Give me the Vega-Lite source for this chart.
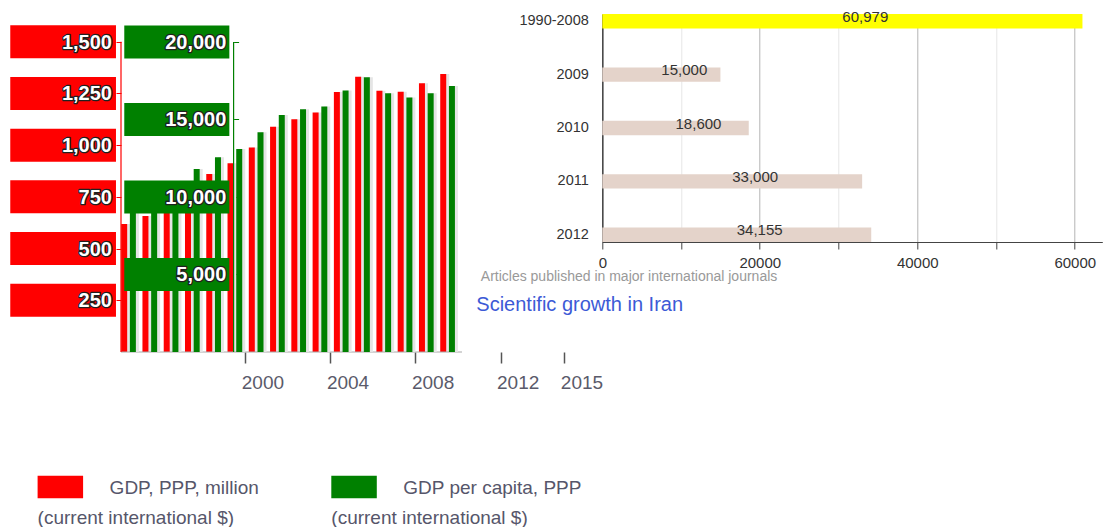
{
  "$schema": "https://vega.github.io/schema/vega-lite/v6.json",
  "autosize": {"type": "pad"},
  "padding": {"left": 10, "top": 9, "right": 0, "bottom": 0},
  "bounds": "flush",
  "columns": 2,
  "spacing": {"row": 123, "column": 16.3},
  "resolve": {"scale": {"color": "independent"}},
  "config": {"font": "Liberation Sans", "view": {"stroke": null}},
  "datasets": {
    "gdp": [
      {"year": 1994, "gdp_ppp_million": 619, "gdp_per_capita": 9600},
      {"year": 1995, "gdp_ppp_million": 657, "gdp_per_capita": 10100},
      {"year": 1996, "gdp_ppp_million": 705, "gdp_per_capita": 10700},
      {"year": 1997, "gdp_ppp_million": 775, "gdp_per_capita": 11800},
      {"year": 1998, "gdp_ppp_million": 860, "gdp_per_capita": 12560},
      {"year": 1999, "gdp_ppp_million": 912, "gdp_per_capita": 13100},
      {"year": 2000, "gdp_ppp_million": 989, "gdp_per_capita": 14170},
      {"year": 2001, "gdp_ppp_million": 1089, "gdp_per_capita": 15290},
      {"year": 2002, "gdp_ppp_million": 1125, "gdp_per_capita": 15660},
      {"year": 2003, "gdp_ppp_million": 1158, "gdp_per_capita": 15830},
      {"year": 2004, "gdp_ppp_million": 1257, "gdp_per_capita": 16860},
      {"year": 2005, "gdp_ppp_million": 1331, "gdp_per_capita": 17720},
      {"year": 2006, "gdp_ppp_million": 1263, "gdp_per_capita": 16690},
      {"year": 2007, "gdp_ppp_million": 1258, "gdp_per_capita": 16410},
      {"year": 2008, "gdp_ppp_million": 1299, "gdp_per_capita": 16690},
      {"year": 2009, "gdp_ppp_million": 1344, "gdp_per_capita": 17160}
    ],
    "gdpTicks": [{"v": 250}, {"v": 500}, {"v": 750}, {"v": 1000}, {"v": 1250}, {"v": 1500}],
    "pcTicks": [{"v": 5000}, {"v": 10000}, {"v": 15000}, {"v": 20000}],
    "articles": [
      {"period": "1990-2008", "articles": 60979},
      {"period": "2009", "articles": 15000},
      {"period": "2010", "articles": 18600},
      {"period": "2011", "articles": 33000},
      {"period": "2012", "articles": 34155}
    ],
    "legend": [
      {"series": "gdp", "label": "GDP, PPP, million", "unit": "(current international $)"},
      {"series": "pc", "label": "GDP per capita, PPP", "unit": "(current international $)"}
    ]
  },
  "concat": [
    {
      "width": 465,
      "height": 338,
      "layer": [
        {
          "layer": [
            {
              "data": {"name": "gdp"},
              "mark": {"type": "bar", "orient": "vertical", "width": 6, "xOffset": 9.5, "color": "#e5e5e5"},
              "encoding": {
                "x": {
                  "field": "year", "type": "quantitative",
                  "scale": {"domain": [1994.156, 2016.018], "nice": false, "zero": false, "padding": 0},
                  "axis": {
                    "values": [2000, 2004, 2008, 2012, 2015], "format": "d", "title": null,
                    "domain": false, "grid": false, "tickSize": 11, "tickColor": "#555", "tickWidth": 1.5,
                    "labelAlign": "left", "labelOffset": -4, "labelFontSize": 19, "labelColor": "#5a5a6a",
                    "labelPadding": 10, "labelFlush": false, "labelOverlap": false
                  }
                },
                "y": {
                  "field": "gdp_ppp_million", "type": "quantitative", "stack": null,
                  "scale": {"domain": [0, 1634], "nice": false, "padding": 0},
                  "axis": {
                    "orient": "left", "values": [250, 500, 750, 1000, 1250, 1500], "labels": false,
                    "domain": false, "grid": false, "tickSize": 5, "tickColor": "#ff0000", "title": null
                  }
                }
              }
            },
            {
              "data": {"name": "gdp"},
              "mark": {"type": "bar", "orient": "vertical", "width": 6, "xOffset": 6.5, "color": "#ff0000"},
              "encoding": {
                "x": {"field": "year", "type": "quantitative"},
                "y": {"field": "gdp_ppp_million", "type": "quantitative", "stack": null}
              }
            },
            {
              "data": {"values": [{}]},
              "mark": {"type": "rule", "color": "#a8a8a8", "strokeWidth": 1},
              "encoding": {
                "x": {"datum": 1994.156, "type": "quantitative"},
                "x2": {"datum": 2010.188},
                "y": {"datum": 0, "type": "quantitative"}
              }
            },
            {
              "data": {"values": [{}]},
              "mark": {"type": "rule", "color": "#ff0000", "strokeWidth": 1.2},
              "encoding": {
                "x": {"datum": 1994.156, "type": "quantitative"},
                "y": {"datum": 0, "type": "quantitative"},
                "y2": {"datum": 1500}
              }
            },
            {
              "data": {"name": "gdpTicks"},
              "mark": {"type": "bar", "orient": "horizontal", "height": 33, "color": "#ff0000"},
              "encoding": {
                "x": {"datum": 1988.95, "type": "quantitative"},
                "x2": {"datum": 1993.92},
                "y": {"field": "v", "type": "quantitative"}
              }
            },
            {
              "data": {"name": "gdpTicks"},
              "mark": {"type": "text", "align": "right", "baseline": "middle", "dx": -4, "dy": 1, "fontSize": 20, "fontWeight": "bold", "fill": "#202020", "stroke": "#202020", "strokeWidth": 2.6, "strokeJoin": "round"},
              "encoding": {
                "x": {"datum": 1993.92, "type": "quantitative"},
                "y": {"field": "v", "type": "quantitative"},
                "text": {"field": "v", "type": "quantitative", "format": ","}
              }
            },
            {
              "data": {"name": "gdpTicks"},
              "mark": {"type": "text", "align": "right", "baseline": "middle", "dx": -4, "dy": 1, "fontSize": 20, "fontWeight": "bold", "fill": "#ffffff"},
              "encoding": {
                "x": {"datum": 1993.92, "type": "quantitative"},
                "y": {"field": "v", "type": "quantitative"},
                "text": {"field": "v", "type": "quantitative", "format": ","}
              }
            }
          ]
        },
        {
          "layer": [
            {
              "data": {"name": "gdp"},
              "mark": {"type": "bar", "orient": "vertical", "width": 6, "xOffset": 18.2, "color": "#e5e5e5"},
              "encoding": {
                "x": {"field": "year", "type": "quantitative"},
                "y": {
                  "field": "gdp_per_capita", "type": "quantitative", "stack": null,
                  "scale": {"domain": [0, 21800], "nice": false, "padding": 0},
                  "axis": {
                    "orient": "right", "offset": -352.4, "values": [5000, 10000, 15000, 20000], "labels": false,
                    "domain": false, "grid": false, "tickSize": 5, "tickColor": "#008000", "title": null
                  }
                }
              }
            },
            {
              "data": {"name": "gdp"},
              "mark": {"type": "bar", "orient": "vertical", "width": 6, "xOffset": 15.2, "color": "#008000"},
              "encoding": {
                "x": {"field": "year", "type": "quantitative"},
                "y": {"field": "gdp_per_capita", "type": "quantitative", "stack": null}
              }
            },
            {
              "data": {"values": [{}]},
              "mark": {"type": "rule", "color": "#008000", "strokeWidth": 1.2},
              "encoding": {
                "x": {"datum": 1999.45, "type": "quantitative"},
                "y": {"datum": 0, "type": "quantitative"},
                "y2": {"datum": 20000}
              }
            },
            {
              "data": {"name": "pcTicks"},
              "mark": {"type": "bar", "orient": "horizontal", "height": 33, "color": "#008000"},
              "encoding": {
                "x": {"datum": 1994.31, "type": "quantitative"},
                "x2": {"datum": 1999.25},
                "y": {"field": "v", "type": "quantitative"}
              }
            },
            {
              "data": {"name": "pcTicks"},
              "mark": {"type": "text", "align": "right", "baseline": "middle", "dx": -3, "dy": 1, "fontSize": 20, "fontWeight": "bold", "fill": "#202020", "stroke": "#202020", "strokeWidth": 2.6, "strokeJoin": "round"},
              "encoding": {
                "x": {"datum": 1999.25, "type": "quantitative"},
                "y": {"field": "v", "type": "quantitative"},
                "text": {"field": "v", "type": "quantitative", "format": ","}
              }
            },
            {
              "data": {"name": "pcTicks"},
              "mark": {"type": "text", "align": "right", "baseline": "middle", "dx": -3, "dy": 1, "fontSize": 20, "fontWeight": "bold", "fill": "#ffffff"},
              "encoding": {
                "x": {"datum": 1999.25, "type": "quantitative"},
                "y": {"field": "v", "type": "quantitative"},
                "text": {"field": "v", "type": "quantitative", "format": ","}
              }
            }
          ]
        }
      ],
      "resolve": {"scale": {"y": "independent"}}
    },
    {
      "width": 500,
      "height": 228,
      "data": {"name": "articles"},
      "title": {
        "text": "Scientific growth in Iran", "orient": "bottom", "anchor": "start", "frame": "group",
        "dx": -126, "offset": 12, "fontSize": 20, "fontWeight": "normal", "color": "#3c5ad6"
      },
      "layer": [
        {
          "mark": {"type": "bar"},
          "encoding": {
            "y": {
              "field": "period", "type": "nominal", "sort": null,
              "scale": {"paddingInner": 0.73, "paddingOuter": 0},
              "axis": {
                "title": null, "ticks": false, "tickSize": 0, "labelPadding": 14, "labelFontSize": 14.5,
                "labelColor": "#333", "domainColor": "#444", "domainWidth": 1.5, "grid": false
              }
            },
            "x": {
              "field": "articles", "type": "quantitative",
              "scale": {"domain": [0, 63500], "nice": false},
              "axis": {
                "values": [0, 10000, 20000, 30000, 40000, 50000, 60000], "format": "d",
                "labelExpr": "datum.value % 20000 === 0 ? datum.label : ''",
                "grid": true,
                "gridColor": {"condition": {"test": "datum.value % 20000 === 0", "value": "#b4b4b4"}, "value": "#e6e6e6"},
                "tickSize": 7, "tickColor": "#444", "domainColor": "#444", "domainWidth": 1.2,
                "labelFontSize": 15, "labelColor": "#333", "labelPadding": 6, "labelFlush": false,
                "title": "Articles published in major international journals",
                "titleFontSize": 14, "titleFontWeight": "normal", "titleColor": "#999",
                "titleX": -122, "titleY": 38, "titleAlign": "left", "titleAnchor": "start", "titleBaseline": "alphabetic"
              }
            },
            "color": {
              "field": "period", "type": "nominal",
              "scale": {"domain": ["1990-2008", "2009", "2010", "2011", "2012"], "range": ["#ffff00", "#e4d3ca", "#e4d3ca", "#e4d3ca", "#e4d3ca"]},
              "legend": null
            }
          }
        },
        {
          "mark": {"type": "text", "align": "left", "baseline": "middle", "dy": -4.5, "fontSize": 15, "color": "#333"},
          "encoding": {
            "y": {"field": "period", "type": "nominal", "sort": null},
            "x": {"field": "articles", "type": "quantitative", "scale": {"domain": [0, 127000], "nice": false}, "axis": null},
            "text": {"field": "articles", "type": "quantitative", "format": ","}
          }
        }
      ],
      "resolve": {"scale": {"x": "independent"}}
    },
    {
      "width": 300,
      "height": 24,
      "data": {"name": "legend"},
      "layer": [
        {
          "mark": {"type": "point", "shape": "M0,-0.5L2,-0.5L2,0.5L0,0.5Z", "size": 2070, "filled": true, "opacity": 1, "strokeWidth": 0},
          "encoding": {
            "x": {"field": "series", "type": "nominal", "scale": {"type": "point", "padding": 0, "domain": ["gdp", "pc"], "range": [-83.4, 210.3]}, "axis": null},
            "color": {"field": "series", "type": "nominal", "scale": {"domain": ["gdp", "pc"], "range": ["#ff0000", "#008000"]}, "legend": null}
          }
        },
        {
          "mark": {"type": "text", "align": "left", "baseline": "middle", "dx": 72, "dy": 1.3, "fontSize": 19, "color": "#56566a"},
          "encoding": {
            "x": {"field": "series", "type": "nominal", "axis": null},
            "text": {"field": "label"}
          }
        },
        {
          "mark": {"type": "text", "align": "left", "baseline": "middle", "dx": 0, "dy": 31, "fontSize": 19, "color": "#56566a"},
          "encoding": {
            "x": {"field": "series", "type": "nominal", "axis": null},
            "text": {"field": "unit"}
          }
        }
      ]
    }
  ]
}
